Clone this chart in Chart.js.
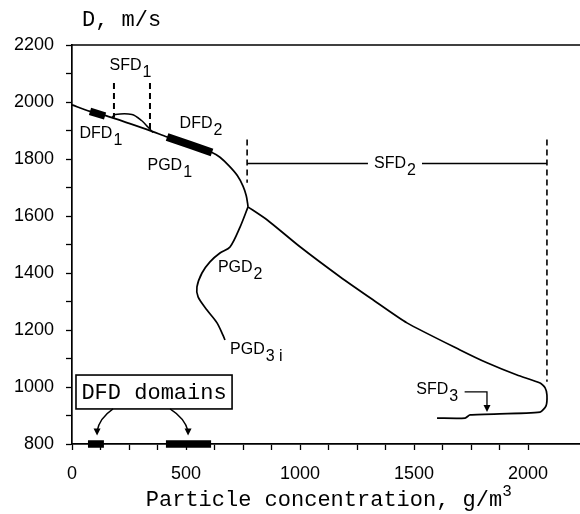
<!DOCTYPE html>
<html>
<head>
<meta charset="utf-8">
<script src="https://cdn.jsdelivr.net/npm/chart.js@4.4.1/dist/chart.umd.min.js"></script>
<style>
  body { margin: 0; background: #fff; }
  #wrap { width: 580px; height: 514px; }
</style>
</head>
<body>
<div id="wrap"><canvas id="chart" width="580" height="514"></canvas></div>
<script>
// curve: detonation velocity D vs particle concentration
const mainConc = [0, 79, 145, 254, 351, 417, 520, 614, 649, 690, 725, 750, 764, 770, 772];
const mainD    = [1990, 1967, 1953, 1924, 1897, 1877, 1849, 1823, 1806, 1775, 1742, 1705, 1672, 1645, 1632];

// PGD branch (goes down and back)
const pgdConc = [772, 737, 693, 649, 605, 570, 548, 553, 592, 636, 662, 671];
const pgdD    = [1632, 1561, 1491, 1470, 1439, 1400, 1351, 1316, 1270, 1225, 1182, 1165];

// SFD branch
const sfdConc = [772, 855, 1000, 1175, 1320, 1469, 1702, 1820, 1952, 2053, 2075, 2083, 2079, 2053, 1746, 1724, 1601];
const sfdD    = [1632, 1587, 1492, 1387, 1306, 1225, 1130, 1085, 1042, 1014, 997, 972, 934, 912, 902, 891, 891];

// little SFD1 bump above the main line
const bumpConc = [175, 190, 263, 305, 333, 355];
const bumpD    = [1945, 1956, 1956, 1935, 1912, 1893];

// thick DFD segments on the curve
const dfd1Conc = [79, 145];
const dfd1D    = [1967, 1951];
const dfd2Conc = [417, 520, 614];
const dfd2D    = [1877, 1849, 1823];

// DFD domains on the axis
const domainStart = [70, 412];
const domainEnd   = [140, 610];

// dashed markers
const dashConc = [184, 342, 768, 2083];
const dashTop  = [2067, 2067, 1868, 1868];
const dashBot  = [1945, 1900, 1717, 1018];

// SFD2 span line
const sfd2Level = 1784;
const sfd2Pieces = [[768, 1298], [1535, 2083]];

// text labels (conc, D at left/middle)
const labelText = ['SFD', 'DFD', 'DFD', 'PGD', 'PGD', 'PGD', 'SFD'];
const labelSub  = ['1', '1', '2', '1', '2', '3 i', '3'];
const labelConc = [165, 33, 472, 331, 640, 693, 1510];
const labelD    = [2128, 1889, 1924, 1777, 1418, 1130, 990];

const yTicks = [800, 1000, 1200, 1400, 1600, 1800, 2000, 2200];
const xTicks = [0, 500, 1000, 1500, 2000];

function seg(xs, ys) { return xs.map((x, i) => ({ x: x, y: ys[i] })); }

const datasets = [];
function addLine(data, width, extra) {
  datasets.push(Object.assign({
    data: data, showLine: true, borderColor: '#000', backgroundColor: '#000',
    borderWidth: width, pointRadius: 0, tension: 0, clip: false
  }, extra || {}));
}

addLine(seg(mainConc, mainD), 1.7, { tension: 0.3 });
addLine(seg(pgdConc, pgdD), 1.7, { tension: 0.3 });
addLine(seg(sfdConc, sfdD), 1.7, { tension: 0.2 });
addLine(seg(bumpConc, bumpD), 1.5, { tension: 0.3 });
addLine(seg(dfd1Conc, dfd1D), 7.5);
addLine(seg(dfd2Conc, dfd2D), 8, { tension: 0.3 });
domainStart.forEach((s, i) => addLine([{ x: s, y: 800 }, { x: domainEnd[i], y: 800 }], 7.5));
dashConc.forEach((c, i) => addLine([{ x: c, y: dashTop[i] }, { x: c, y: dashBot[i] }], i < 2 ? 2 : 1.6, { borderDash: [6, 4] }));
sfd2Pieces.forEach(p => addLine([{ x: p[0], y: sfd2Level }, { x: p[1], y: sfd2Level }], 1.5));

const sansFont = '16px "Liberation Sans", Arial, sans-serif';
const monoFont = '22px "Courier New", "Liberation Mono", monospace';

function subLabel(ctx, text, sub, px, py) {
  ctx.font = sansFont;
  ctx.textAlign = 'left';
  ctx.textBaseline = 'middle';
  ctx.fillText(text, px, py);
  const w = ctx.measureText(text).width;
  ctx.fillText(sub, px + w + 1, py + 7);
}

function arrowHead(ctx, x, y) {
  ctx.beginPath();
  ctx.moveTo(x - 3.5, y - 7);
  ctx.lineTo(x + 3.5, y - 7);
  ctx.lineTo(x, y);
  ctx.closePath();
  ctx.fill();
}

const extras = {
  id: 'extras',
  afterDatasetsDraw(chart) {
    const ctx = chart.ctx;
    const xs = chart.scales.x, ys = chart.scales.y;
    const a = chart.chartArea;
    const X = v => xs.getPixelForValue(v), Y = v => ys.getPixelForValue(v);
    ctx.save();
    ctx.fillStyle = '#000';
    ctx.strokeStyle = '#000';

    // top frame line
    ctx.lineWidth = 1.6;
    ctx.beginPath();
    ctx.moveTo(a.left, a.top);
    ctx.lineTo(a.right, a.top);
    ctx.stroke();

    labelText.forEach((t, i) => subLabel(ctx, t, labelSub[i], X(labelConc[i]), Y(labelD[i])));

    // SFD2 centred in its gap
    ctx.font = sansFont;
    const w2 = ctx.measureText('SFD').width + 10;
    subLabel(ctx, 'SFD', '2', X(1417) - w2 / 2, Y(sfd2Level));

    // SFD3 pointer
    ctx.lineWidth = 1.3;
    ctx.beginPath();
    ctx.moveTo(X(1722), Y(983));
    ctx.lineTo(X(1820), Y(983));
    ctx.lineTo(X(1820), Y(920));
    ctx.stroke();
    arrowHead(ctx, X(1820), Y(912));

    // DFD domains box
    ctx.lineWidth = 1.6;
    ctx.strokeRect(X(17.5), Y(1042), X(702) - X(17.5), Y(923) - Y(1042));
    ctx.font = monoFont;
    ctx.textAlign = 'center';
    ctx.textBaseline = 'middle';
    ctx.fillText('DFD domains', (X(17.5) + X(702)) / 2, (Y(1042) + Y(923)) / 2 + 1);

    // curved arrows from the box
    ctx.lineWidth = 1.4;
    ctx.beginPath();
    ctx.moveTo(X(180), Y(923));
    ctx.quadraticCurveTo(X(120), Y(890), X(110), Y(845));
    ctx.stroke();
    arrowHead(ctx, X(110), Y(830));
    ctx.beginPath();
    ctx.moveTo(X(430), Y(923));
    ctx.quadraticCurveTo(X(495), Y(890), X(509), Y(845));
    ctx.stroke();
    arrowHead(ctx, X(509), Y(830));

    // axis titles
    ctx.font = monoFont;
    ctx.textAlign = 'left';
    ctx.textBaseline = 'middle';
    ctx.fillText('D, m/s', 82, 20);
    const xt = 'Particle concentration, g/m';
    const tw = ctx.measureText(xt).width;
    const x0 = 330 - (tw + 12) / 2;
    ctx.fillText(xt, x0, 500);
    ctx.font = '16px "Courier New", "Liberation Mono", monospace';
    ctx.fillText('3', x0 + tw, 492);
    ctx.restore();
  }
};

Chart.defaults.color = '#000';

new Chart(document.getElementById('chart'), {
  type: 'scatter',
  data: { datasets: datasets },
  options: {
    responsive: false,
    animation: false,
    layout: { padding: { top: 45, right: 0, left: 0, bottom: 0 } },
    plugins: { legend: { display: false }, tooltip: { enabled: false } },
    scales: {
      x: {
        type: 'linear', min: 0, max: 2228,
        afterFit: s => { s.height = 70; },
        afterBuildTicks: s => { s.ticks = s.ticks.filter(t => t.value % 125 === 0); },
        ticks: {
          stepSize: 125, maxRotation: 0, autoSkip: false, padding: 13,
          font: { family: '"Liberation Sans", Arial, sans-serif', size: 18 },
          callback: v => xTicks.includes(v) ? String(v) : ''
        },
        grid: { drawOnChartArea: false, tickLength: 6, tickColor: '#000', tickWidth: 1.3 },
        border: { color: '#000', width: 1.7 }
      },
      y: {
        type: 'linear', min: 800, max: 2200,
        afterFit: s => { s.width = 72; },
        ticks: {
          stepSize: 100, autoSkip: false, padding: 12,
          font: { family: '"Liberation Sans", Arial, sans-serif', size: 18 },
          callback: v => yTicks.includes(v) ? String(v) : ''
        },
        grid: { drawOnChartArea: false, tickLength: 6, tickColor: '#000', tickWidth: 1.3 },
        border: { color: '#000', width: 1.7 }
      }
    }
  },
  plugins: [extras]
});
</script>
</body>
</html>
